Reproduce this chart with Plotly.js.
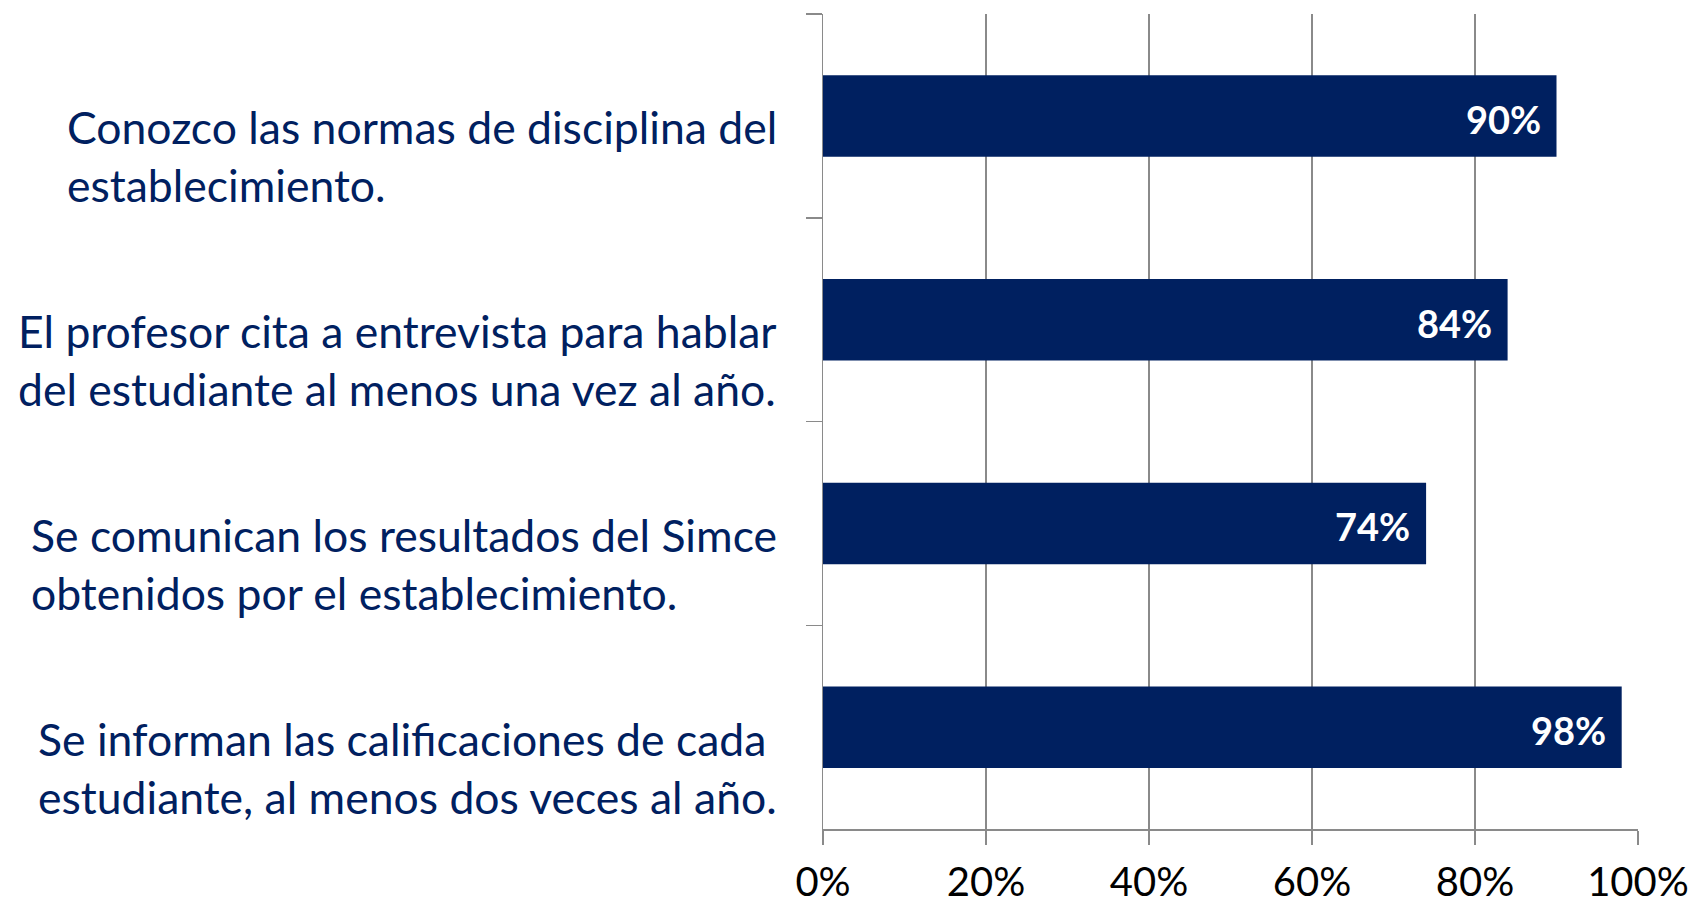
<!DOCTYPE html>
<html>
<head>
<meta charset="utf-8">
<script src="https://cdn.plot.ly/plotly-3.0.1.min.js"></script>
<style>html,body{margin:0;padding:0;background:#fff;}</style>
</head>
<body>
<div id="chart" style="width:1696px;height:909px;"></div>
<script>
// Data (top to bottom)
var categories = [
  "Conozco las normas de disciplina del<br>establecimiento.",
  "El profesor cita a entrevista para hablar<br>del estudiante al menos una vez al año.",
  "Se comunican los resultados del Simce<br>obtenidos por el establecimiento.",
  "Se informan las calificaciones de cada<br>estudiante, al menos dos veces al año."
];
var values = [90, 84, 74, 98];
var valueLabels = ["90%", "84%", "74%", "98%"];
var tickValues = [0, 20, 40, 60, 80, 100];
var tickLabels = ["0%", "20%", "40%", "60%", "80%", "100%"];

var navy = "#002060";
var gray = "#8a8a8a";
var font = "Lato, 'Open Sans', sans-serif";

var trace = {
  type: "bar",
  orientation: "h",
  x: values,
  y: categories,
  marker: {color: navy, line: {width: 0}},
  hoverinfo: "none"
};

var annotations = [];
categories.forEach(function (c, i) {
  annotations.push({
    xref: "paper", yref: "y", x: 0, y: c,
    xanchor: "right", yanchor: "middle",
    xshift: -44, yshift: -40,
    align: "left", showarrow: false,
    text: c,
    font: {family: font, size: 44.5, color: navy}
  });
  annotations.push({
    xref: "x", yref: "y", x: values[i], y: c,
    xanchor: "right", yanchor: "middle",
    xshift: -14, yshift: -3,
    showarrow: false,
    text: "<b>" + valueLabels[i] + "</b>",
    font: {family: font, size: 38, color: "#ffffff"}
  });
});

var layout = {
  width: 1696, height: 909,
  margin: {l: 823, r: 58, t: 14, b: 80, pad: 0},
  paper_bgcolor: "#ffffff", plot_bgcolor: "#ffffff",
  showlegend: false,
  bargap: 0.6,
  font: {family: font},
  xaxis: {
    range: [0, 100],
    tickvals: tickValues, ticktext: tickLabels,
    showgrid: true, gridcolor: gray, gridwidth: 1.5,
    zeroline: false,
    showline: true, linecolor: gray, linewidth: 1.5,
    ticks: "outside", ticklen: 14, tickcolor: gray, tickwidth: 1.5,
    ticklabelstandoff: 3,
    tickfont: {family: font, size: 40, color: "#000000"},
    fixedrange: true
  },
  yaxis: {
    type: "category",
    categoryorder: "array", categoryarray: categories,
    autorange: "reversed",
    tickson: "boundaries",
    ticks: "outside", ticklen: 16, tickcolor: gray, tickwidth: 1.5,
    showticklabels: false,
    showgrid: false, zeroline: false,
    showline: true, linecolor: gray, linewidth: 1.5,
    fixedrange: true
  },
  annotations: annotations
};

Plotly.newPlot("chart", [trace], layout, {displayModeBar: false, staticPlot: true});
</script>
</body>
</html>
